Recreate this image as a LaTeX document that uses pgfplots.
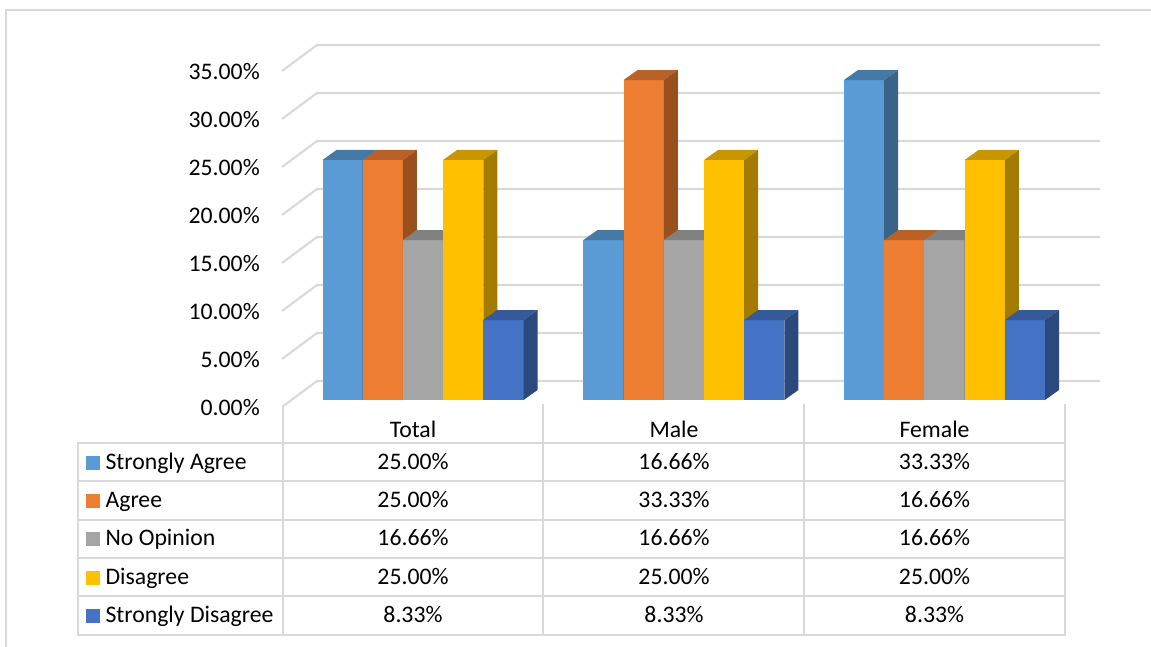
\documentclass[border=0pt]{standalone}
\usepackage{fontspec}
\setmainfont{Carlito}
\usepackage{pgfplots}
\pgfplotsset{compat=1.18}

\definecolor{sagree}{HTML}{5B9BD5}
\definecolor{agree}{HTML}{ED7D31}
\definecolor{noop}{HTML}{A5A5A5}
\definecolor{disagree}{HTML}{FFC000}
\definecolor{sdisagree}{HTML}{4472C4}
\definecolor{gridc}{HTML}{D9D9D9}

% one 3d column: centre x (px), value (%), colour
\newcommand{\threedbar}[3]{%
  \pgfmathsetmacro{\xl}{#1-20.1}%
  \pgfmathsetmacro{\xr}{#1+20.1}%
  \pgfmathsetmacro{\xb}{#1+34.1}%
  \pgfmathsetmacro{\xa}{#1-6.1}%
  \pgfmathsetmacro{\yt}{#2+1.0417}%
  \addplot[ybar, bar shift=0pt, bar width=30.15pt, draw=none, fill=#3, forget plot] coordinates {(#1,#2)};
  \addplot[draw=none, fill=#3!78!black, mark=none, forget plot] coordinates {(\xl,#2) (\xa,\yt) (\xb,\yt) (\xr,#2) (\xl,#2)};
  \addplot[draw=none, fill=#3!64!black, mark=none, forget plot] coordinates {(\xr,0) (\xb,1.0417) (\xb,\yt) (\xr,#2) (\xr,0)};
}
% one gridline with its slanted part on the side wall
\newcommand{\wallgrid}[1]{%
  \pgfmathsetmacro{\yf}{#1-0.729}%
  \pgfmathsetmacro{\yb}{#1+1.979}%
  \addplot[gridc, line width=1.6pt, mark=none, forget plot] coordinates {(282,\yf) (317,\yb) (1100,\yb)};
}

\begin{document}
\begin{tikzpicture}
\useasboundingbox (0,0) rectangle (863.25pt,484.5pt);
\begin{axis}[
    at={(0,0)}, anchor=south west,
    scale only axis,
    width=863.25pt,
    height=484.5pt,
    xmin=0, xmax=1151,
    ymin=-25.625, ymax=41.6667,
    axis line style={draw=none},
    major tick length=0pt,
    xtick={413,674,934.5},
    xticklabels={Total,Male,Female},
    xtick pos=bottom,
    xticklabel style={anchor=base, inner sep=0pt, yshift=156.75pt},
    ytick={0,5,10,15,20,25,30,35},
    ytick pos=left,
    yticklabel={\pgfmathprintnumber{\tick}\%},
    yticklabel style={anchor=base east, inner sep=0pt, xshift=195pt, yshift=-11.4pt,
      /pgf/number format/assume math mode=true,
      /pgf/number format/fixed,
      /pgf/number format/fixed zerofill,
      /pgf/number format/precision=2},
    tick label style={font=\fontsize{17.8pt}{20pt}\selectfont},
]
\wallgrid{0}
\wallgrid{5}
\wallgrid{10}
\wallgrid{15}
\wallgrid{20}
\wallgrid{25}
\wallgrid{30}
\wallgrid{35}

% Total
\threedbar{342.6}{25.00}{sagree}
\threedbar{382.8}{25.00}{agree}
\threedbar{423.0}{16.66}{noop}
\threedbar{463.2}{25.00}{disagree}
\threedbar{503.4}{8.33}{sdisagree}
% Male
\threedbar{603.5}{16.66}{sagree}
\threedbar{643.7}{33.33}{agree}
\threedbar{683.9}{16.66}{noop}
\threedbar{724.1}{25.00}{disagree}
\threedbar{764.3}{8.33}{sdisagree}
% Female
\threedbar{864.1}{33.33}{sagree}
\threedbar{904.3}{16.66}{agree}
\threedbar{944.5}{16.66}{noop}
\threedbar{984.7}{25.00}{disagree}
\threedbar{1024.9}{8.33}{sdisagree}
\end{axis}

% frame and data table, in reference pixels
\begin{scope}[yshift=484.5pt, x=0.75pt, y=-0.75pt, line cap=rect]
  \draw[gridc, line width=1.6pt] (6,646) -- (6,10) -- (1151,10);
  \draw[gridc, line width=1.5pt]
    (78,443) -- (1065,443) (78,481) -- (1065,481) (78,520) -- (1065,520)
    (78,558) -- (1065,558) (78,596) -- (1065,596) (78,635) -- (1065,635)
    (78,443) -- (78,635) (282.5,407) -- (282.5,635) (543,405) -- (543,635)
    (804,405) -- (804,635) (1065,405) -- (1065,635);
  \begin{scope}[every node/.style={anchor=base, inner sep=0pt, font=\fontsize{17.8pt}{20pt}\selectfont}]
    \foreach \lab/\col/\yy/\a/\b/\c in {
      Strongly Agree/sagree/469.7/25.00/16.66/33.33,
      Agree/agree/507.7/25.00/33.33/16.66,
      No Opinion/noop/545.7/16.66/16.66/16.66,
      Disagree/disagree/584.7/25.00/25.00/25.00,
      Strongly Disagree/sdisagree/622.7/8.33/8.33/8.33}{
      \node[anchor=base west] at (86,\yy) {\textcolor{\col}{\rule{10.5pt}{10.5pt}}\hspace{4pt}\lab};
      \node at (413,\yy) {\a\%};
      \node at (674,\yy) {\b\%};
      \node at (934.5,\yy) {\c\%};
    }
  \end{scope}
\end{scope}
\end{tikzpicture}
\end{document}
